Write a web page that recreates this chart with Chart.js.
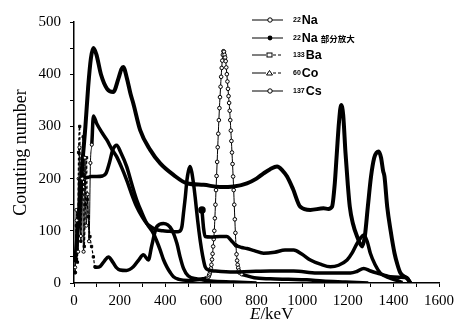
<!DOCTYPE html>
<html>
<head>
<meta charset="utf-8">
<script src="https://cdn.jsdelivr.net/npm/chart.js@4.4.0/dist/chart.umd.min.js"></script>
<style>
html,body{margin:0;padding:0;background:#fff;}
#wrap{position:relative;width:459px;height:323px;}
#wrap canvas{position:absolute;left:0;top:0;}
.row{position:absolute;left:252px;height:14px;display:flex;align-items:center;font-family:"Liberation Sans",Arial,sans-serif;font-weight:bold;font-size:12.5px;color:#000;white-space:nowrap;}
.row svg{margin-right:10px;}
.row sup{font-size:7px;vertical-align:5px;margin-right:1px;line-height:0;}
.cjk{font-family:"Noto Sans CJK SC",sans-serif;font-size:8.5px;font-weight:bold;margin-left:3px;}
#xt{position:absolute;left:250px;top:305px;font-family:"Liberation Serif",serif;font-size:17px;line-height:18px;color:#000;}
</style>
</head>
<body>
<div id="wrap">
<canvas id="c" width="459" height="323"></canvas>
<div class="row" style="top:13px"><svg width="31" height="10"><line x1="0" y1="5" x2="31" y2="5" stroke="#000" stroke-width="1"/><circle cx="18" cy="5" r="2.2" fill="#fff" stroke="#000" stroke-width="1"/></svg><sup>22</sup>Na</div>
<div class="row" style="top:30.5px"><svg width="31" height="10"><line x1="0" y1="5" x2="31" y2="5" stroke="#000" stroke-width="1"/><circle cx="18" cy="5" r="2.4" fill="#000"/></svg><sup>22</sup>Na<span class="cjk">部分放大</span></div>
<div class="row" style="top:48px"><svg width="31" height="10"><line x1="0" y1="5" x2="14" y2="5" stroke="#000" stroke-width="1"/><line x1="21" y1="5" x2="31" y2="5" stroke="#000" stroke-width="1" stroke-dasharray="3,2"/><rect x="15" y="3" width="5" height="4" fill="#fff" stroke="#000" stroke-width="1"/></svg><sup>133</sup>Ba</div>
<div class="row" style="top:66px"><svg width="31" height="10"><line x1="0" y1="5" x2="14" y2="5" stroke="#000" stroke-width="1"/><line x1="21" y1="5" x2="31" y2="5" stroke="#000" stroke-width="1" stroke-dasharray="3,2"/><polygon points="17.5,2.5 20.5,7 14.5,7" fill="#fff" stroke="#000" stroke-width="1"/></svg><sup>60</sup>Co</div>
<div class="row" style="top:84px"><svg width="31" height="10"><line x1="0" y1="5" x2="31" y2="5" stroke="#000" stroke-width="1"/><circle cx="18" cy="5" r="2.2" fill="#fff" stroke="#000" stroke-width="1"/></svg><sup>137</sup>Cs</div>
<div id="xt"><i>E</i>/keV</div>
</div>
<script>
// ---- Data (energy in keV, counts) ----
const naE = [5,12,18,24,30,36,42,48,54,60,66,72,78,85,100,120,144,165,187,210,231,253,275,297,319,340,363,390,420,445,462,473,480,488,495,502,509,516,524,531,542,553,564,575,590,620,700,772,860,963,1065,1140,1212,1240,1270,1300,1329,1387,1430,1460,1475];
const naN = [30,120,60,260,90,200,60,240,110,170,80,230,265,320,305,290,274,257,242,220,197,170,146,128,114,107,102,100,99,98,99,108,134,165,197,215,223,213,190,165,120,82,52,31,25,23,21,22,23,23,19,19,19,22,28,23,19,12,11,10,0];

const npE = [561,568,575,600,640,670,690,707,735,758,790,831,880,925,963,1000,1036,1080,1124,1160,1197,1220,1241,1256,1270,1285,1299,1320,1343,1365,1387,1415,1440];
const npN = [140,105,89,88,89,89,81,73,68,66,62,57,59,63,63,55,44,36,31,34,44,58,76,86,92,80,57,35,19,13,9,5,1];

const baE = [5,10,15,20,25,30,35,40,45,50,55,58,63,70,77,85,92,100,115,133,151,170,185,202,230,260,285,304,326,340,363,392,429,451,465,480,500,540,600,700,800];
const baN = [20,110,40,250,300,80,180,280,70,150,240,160,127,89,70,50,31,30,32,42,50,40,30,25,24,31,45,54,44,70,108,114,102,76,50,28,14,8,4,2,0];

const coE = [5,20,35,50,62,74,85,98,118,145,172,195,208,216,232,248,260,290,334,378,436,495,568,640,700,758,800,831,860,890,915,934,960,992,1036,1094,1115,1131,1143,1152,1162,1171,1180,1190,1200,1209,1222,1241,1263,1275,1288,1302,1316,1327,1336,1346,1355,1361,1373,1388,1405,1418,1431,1460,1475];
const coN = [40,120,220,300,375,430,450,438,400,372,366,392,410,414,392,362,344,293,255,229,207,191,188,184,185,191,200,210,218,223,215,204,180,146,140,143,142,146,190,248,310,341,322,250,190,146,115,89,70,90,146,204,240,250,252,240,215,204,146,100,57,35,19,9,0];

const csE = [5,10,15,20,26,32,40,55,75,100,125,140,155,170,187,205,231,253,275,297,319,348,363,378,392,407,422,436,460,500,540,565,580,
  590,592.5,595,597.5,600,602.5,605,607.5,610,612.5,615,617.5,620,622.5,625,627.5,630,632.5,635,637.5,640,642.5,645,647.5,650,652.5,655,657.5,
  660,662.5,665,667.5,670,672.5,675,677.5,680,682.5,685,687.5,690,692.5,695,697.5,700,702.5,705,707.5,710,712.5,715,717.5,720,722.5,725,
  735,756,790,860,940,1020,1090,1190,1290];
const csN = [20,140,60,200,120,215,205,202,204,204,205,210,230,255,264,250,223,190,159,135,114,95,80,63,45,31,20,12,7,5,6,8,10,
  12,15,18,22,28,35,45,56,70,84,100,124,150,178,205,232,260,286,312,335,356,376,395,412,426,437,444,443,
  437,432,425,413,400,386,372,358,345,330,312,292,272,250,228,204,178,150,122,96,72,55,43,35,29,24,20,
  17,14,10,8,7,6,4,2,0];

const xTicks = [0,200,400,600,800,1000,1200,1400,1600];
const yTicks = [0,100,200,300,400,500];

const pts = (E, N) => E.map((e, i) => ({x: e, y: N[i]}));
const xOf = ctx => (ctx.raw ? ctx.raw.x : 9999);

const datasets = [
  { label: '22Na', data: pts(naE, naN), borderColor: '#000', borderWidth: 3.5,
    pointStyle: 'circle', pointBackgroundColor: '#fff', pointBorderColor: '#000', pointBorderWidth: 1,
    pointRadius: c => xOf(c) < 80 ? 1.6 : 0,
    segment: { borderWidth: c => c.p0.parsed.x < 78 ? 1 : 3.5 } },
  { label: '22Na part', data: pts(npE, npN), borderColor: '#000', borderWidth: 3.5,
    pointStyle: 'circle', pointBackgroundColor: '#000', pointBorderColor: '#000',
    pointRadius: c => xOf(c) < 563 ? 2 : 0 },
  { label: '133Ba', data: pts(baE, baN), borderColor: '#000', borderWidth: 3.5,
    pointStyle: 'rect', pointBackgroundColor: '#000', pointBorderColor: '#000', pointBorderWidth: 1,
    pointRadius: c => xOf(c) < 95 ? 1.6 : 0,
    segment: { borderWidth: c => c.p0.parsed.x < 92 ? 1.2 : 3.5,
               borderDash: c => c.p0.parsed.x < 92 ? [3, 2] : [] } },
  { label: '60Co', data: pts(coE, coN), borderColor: '#000', borderWidth: 4, pointRadius: 0 },
  { label: '137Cs', data: pts(csE, csN), borderColor: '#000', borderWidth: 3.5,
    pointStyle: 'circle', pointBackgroundColor: '#fff', pointBorderColor: '#000', pointBorderWidth: 1,
    pointRadius: c => { const x = xOf(c); return (x >= 588 && x <= 736) ? 1.8 : (x < 30 ? 1.5 : 0); },
    segment: { borderWidth: c => { const x = c.p0.parsed.x; return (x >= 580 && x < 735) || x < 30 ? 1 : 3.5; } } }
];
datasets.forEach(d => { d.fill = false; d.cubicInterpolationMode = 'monotone'; d.pointHoverRadius = 0; });

const serif = 'Liberation Serif';
new Chart(document.getElementById('c'), {
  type: 'line',
  data: { datasets },
  options: {
    responsive: false,
    animation: false,
    events: [],
    layout: { padding: { left: 0, right: 20, top: 22, bottom: 0 } },
    plugins: { legend: { display: false }, tooltip: { enabled: false } },
    scales: {
      x: {
        type: 'linear', min: 0, max: 1600,
        afterFit: s => { s.height = 40; },
        border: { display: true, color: '#000', width: 1.5 },
        grid: { drawOnChartArea: false, drawTicks: true, tickLength: 4, color: '#000', lineWidth: 1 },
        ticks: { stepSize: 100, autoSkip: false, maxRotation: 0, padding: 5, color: '#000',
                 font: { family: serif, size: 15 },
                 callback: v => xTicks.includes(v) ? String(v) : '' }
      },
      y: {
        min: 0, max: 500,
        afterFit: s => { s.width = 74; },
        border: { display: true, color: '#000', width: 1.5 },
        grid: { drawOnChartArea: false, drawTicks: true, tickLength: 4, color: '#000', lineWidth: 1 },
        ticks: { stepSize: 50, autoSkip: false, padding: 9, color: '#000',
                 font: { family: serif, size: 15 },
                 callback: v => yTicks.includes(v) ? String(v) : '' },
        title: { display: true, text: 'Counting number', color: '#000',
                 font: { family: serif, size: 18, lineHeight: 1 }, padding: { top: 12, bottom: 0 } }
      }
    }
  }
});
</script>
</body>
</html>
